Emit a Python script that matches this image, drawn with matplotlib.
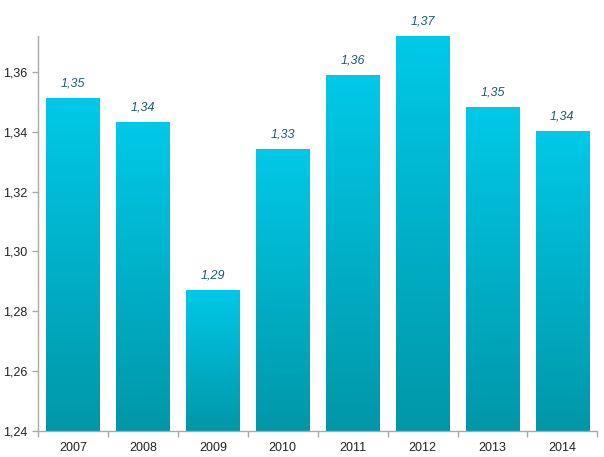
import matplotlib
matplotlib.use("Agg")
import matplotlib.pyplot as plt
import numpy as np
from matplotlib.colors import LinearSegmentedColormap

years = ["2007", "2008", "2009", "2010", "2011", "2012", "2013", "2014"]
values = [1.351, 1.343, 1.287, 1.334, 1.359, 1.372, 1.348, 1.340]
y_ticks = [1.24, 1.26, 1.28, 1.30, 1.32, 1.34, 1.36]

plt.rcParams['font.family'] = ['Liberation Sans', 'DejaVu Sans']

fig = plt.figure(figsize=(6.04, 4.57), dpi=100)
ax = fig.add_axes([0.063, 0.057, 0.926, 0.864])

base = 1.24
width = 0.76
cmap = LinearSegmentedColormap.from_list("g", ["#0097a8", "#00c9e8"])
grad = np.linspace(0, 1, 256).reshape(-1, 1)
for i, v in enumerate(values):
    ax.imshow(grad, extent=[i - width / 2, i + width / 2, base, v], origin='lower',
              aspect='auto', cmap=cmap, zorder=2, interpolation='bilinear')
    ax.text(i, v + 0.003, f"{v:.2f}".replace('.', ','), ha='center', va='bottom',
            fontsize=9, style='italic', color='#1d5a73', zorder=4)

ax.set_xlim(-0.5, len(years) - 0.5)
ax.set_ylim(base, 1.372)
ax.set_yticks(y_ticks)
ax.set_yticklabels([f"{t:.2f}".replace('.', ',') for t in y_ticks])
ax.set_xticks(range(len(years)))
ax.set_xticklabels(years)
ax.set_xticks(np.arange(-0.5, len(years)), minor=True)
ax.tick_params(axis='x', which='major', length=0, pad=8, labelsize=9, labelcolor='#222222')
ax.tick_params(axis='x', which='minor', length=4, color='#aaaaaa', width=1)
ax.tick_params(axis='y', length=4, color='#aaaaaa', width=1, labelsize=9, labelcolor='#222222')

for s in ['top', 'right']:
    ax.spines[s].set_visible(False)
for s in ['left', 'bottom']:
    ax.spines[s].set_color('#aaaaaa')
    ax.spines[s].set_linewidth(1)

fig.savefig("out.png", dpi=100)
